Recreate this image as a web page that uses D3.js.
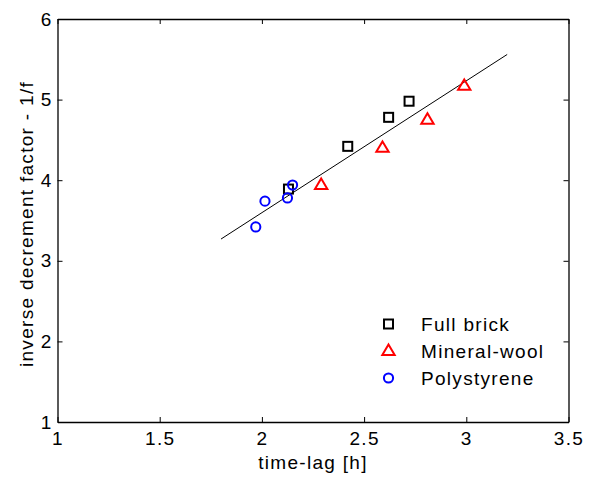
<!DOCTYPE html>
<html>
<head>
<meta charset="utf-8">
<script src="https://cdn.jsdelivr.net/npm/d3@7"></script>
<style>
  html, body { margin: 0; padding: 0; background: #fff; }
  svg { display: block; font-family: "Liberation Sans", Arial, sans-serif; }
  svg text { letter-spacing: 1.3px; }
</style>
</head>
<body>
<svg id="chart" width="598" height="479"></svg>
<script>
// Measured samples: time-lag [h] vs inverse decrement factor (1/f)
const fullBrickX = [2.13, 2.42, 2.62, 2.72];
const fullBrickY = [3.89, 4.42, 4.78, 4.98];
const mineralWoolX = [2.29, 2.59, 2.81, 2.99];
const mineralWoolY = [3.94, 4.40, 4.75, 5.17];
const polystyreneX = [1.97, 2.015, 2.125, 2.15];
const polystyreneY = [3.42, 3.74, 3.78, 3.94];
// Linear fit endpoints
const fitX = [1.8, 3.2];
const fitY = [3.27, 5.56];

const xTicks = [1, 1.5, 2, 2.5, 3, 3.5];
const yTicks = [1, 2, 3, 4, 5, 6];
const legendLabels = ["Full brick", "Mineral-wool", "Polystyrene"];

const svg = d3.select("#chart");
const plotL = 57.5, plotR = 568.5, plotT = 19, plotB = 422;

const x = d3.scaleLinear().domain([1, 3.5]).range([plotL, plotR]);
const y = d3.scaleLinear().domain([1, 6]).range([plotB, plotT]);

const fontSize = 19;

// Axes with inward ticks on all four sides
const tick = 5;
const gAxes = svg.append("g");
gAxes.append("g").attr("transform", `translate(0,${plotB})`)
  .call(d3.axisBottom(x).tickValues(xTicks).tickFormat(d3.format("")).tickSizeInner(-tick).tickSizeOuter(0).tickPadding(10));
gAxes.append("g").attr("transform", `translate(0,${plotT})`)
  .call(d3.axisTop(x).tickValues(xTicks).tickFormat("").tickSizeInner(-tick).tickSizeOuter(0));
gAxes.append("g").attr("transform", `translate(${plotL},0)`)
  .call(d3.axisLeft(y).tickValues(yTicks).tickFormat(d3.format("")).tickSizeInner(-tick).tickSizeOuter(0).tickPadding(5));
gAxes.append("g").attr("transform", `translate(${plotR},0)`)
  .call(d3.axisRight(y).tickValues(yTicks).tickFormat("").tickSizeInner(-tick).tickSizeOuter(0));

gAxes.selectAll(".domain").attr("stroke", "#000").attr("stroke-width", 1.3);
gAxes.selectAll(".tick line").attr("stroke", "#000").attr("stroke-width", 1);
gAxes.selectAll(".tick text").attr("font-size", fontSize).attr("fill", "#000")
  .attr("font-family", "'Liberation Sans', Arial, sans-serif");

// Fit line
svg.append("line")
  .attr("x1", x(fitX[0])).attr("y1", y(fitY[0]))
  .attr("x2", x(fitX[1])).attr("y2", y(fitY[1]))
  .attr("stroke", "#000").attr("stroke-width", 1);

const sq = 9, triR = 6.5, circR = 4.6;
function squareMark(g, cx, cy) {
  g.append("rect").attr("x", cx - sq / 2).attr("y", cy - sq / 2)
    .attr("width", sq).attr("height", sq)
    .attr("fill", "none").attr("stroke", "#000").attr("stroke-width", 2);
}
function triMark(g, cx, cy) {
  const pts = [[cx, cy - triR], [cx + triR * 0.95, cy + triR * 0.6], [cx - triR * 0.95, cy + triR * 0.6]];
  g.append("polygon").attr("points", pts.map(p => p.join(",")).join(" "))
    .attr("fill", "none").attr("stroke", "#ff0000").attr("stroke-width", 2);
}
function circMark(g, cx, cy) {
  g.append("circle").attr("cx", cx).attr("cy", cy).attr("r", circR)
    .attr("fill", "none").attr("stroke", "#0000ff").attr("stroke-width", 2);
}

const gPts = svg.append("g");
fullBrickX.forEach((v, i) => squareMark(gPts, x(v), y(fullBrickY[i])));
mineralWoolX.forEach((v, i) => triMark(gPts, x(v), y(mineralWoolY[i])));
polystyreneX.forEach((v, i) => circMark(gPts, x(v), y(polystyreneY[i])));

// Legend
const lg = svg.append("g");
const markFns = [squareMark, triMark, circMark];
legendLabels.forEach((t, i) => {
  const cy = 324 + i * 27;
  markFns[i](lg, 388.5, cy);
  lg.append("text").attr("x", 421).attr("y", cy + 6.5)
    .attr("font-size", fontSize).attr("fill", "#000").text(t);
});

// Axis titles
svg.append("text").attr("x", (plotL + plotR) / 2).attr("y", 469)
  .attr("text-anchor", "middle").attr("font-size", fontSize).text("time-lag [h]");
svg.append("text")
  .attr("transform", `translate(32.5,224) rotate(-90)`)
  .attr("text-anchor", "middle").attr("font-size", fontSize)
  .text("inverse decrement factor - 1/f");
</script>
</body>
</html>
